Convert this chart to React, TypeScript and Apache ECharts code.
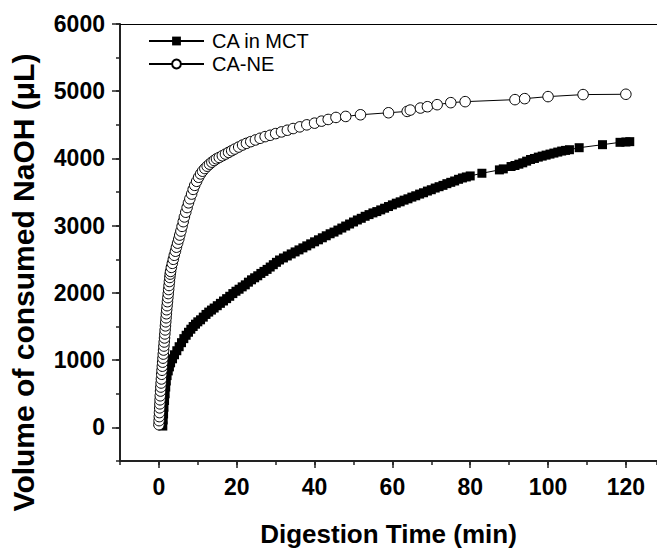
import React, { useEffect, useRef } from "react";
import * as echarts from "echarts";

// CA in MCT (filled squares): [time (min), volume (µL)]
const caInMct: [number, number][] = [
  [1.0, 20], [1.1, 110], [1.2, 200], [1.3, 300], [1.45, 400], [1.6, 500], [1.75, 600], [1.9, 690],
  [2.1, 770], [2.4, 840], [2.7, 900], [3.0, 960], [3.5, 1020], [4.0, 1080], [4.6, 1140], [5.2, 1200],
  [5.8, 1260], [6.4, 1320], [7.0, 1370], [7.6, 1415], [8.2, 1460], [8.8, 1500], [9.4, 1535], [10.0, 1570],
  [10.7, 1600], [11.4, 1640], [12.1, 1680], [12.8, 1715], [13.5, 1745], [14.2, 1775], [15.0, 1810],
  [15.8, 1845], [16.6, 1880], [17.4, 1915], [18.2, 1950], [19.0, 1990], [19.8, 2025], [20.6, 2055],
  [21.4, 2090], [22.2, 2120], [23.0, 2160], [23.8, 2195], [24.6, 2225], [25.4, 2255], [26.2, 2290],
  [27.0, 2320], [27.8, 2350], [28.6, 2385], [29.4, 2420], [30.2, 2455], [31, 2490], [32, 2520],
  [33, 2550], [34, 2580], [35, 2610], [36, 2640], [37, 2670], [38, 2700], [39, 2730], [40, 2760],
  [41, 2790], [42, 2820], [43, 2850], [44, 2880], [45, 2905], [46, 2935], [47, 2965], [48, 2995],
  [49, 3025], [50, 3055], [51, 3085], [52, 3110], [53, 3140], [54, 3165], [55, 3190], [56, 3210],
  [57, 3235], [58, 3260], [59, 3285], [60, 3310], [61, 3335], [62, 3355], [63, 3380], [64, 3400],
  [65, 3425], [66, 3445], [67, 3470], [68, 3490], [69, 3515], [70, 3535], [71, 3560], [72, 3580],
  [73, 3600], [74, 3625], [75, 3645], [76, 3665], [77, 3690], [78, 3710], [79, 3725], [80, 3740],
  [83, 3780], [87.5, 3830], [88.5, 3845], [90.5, 3880], [91.5, 3895], [92.5, 3915], [93.5, 3935],
  [94.5, 3960], [95.5, 3985], [96.5, 4000], [97.5, 4020], [98.5, 4035], [99.5, 4050], [100.5, 4065],
  [101.5, 4080], [102.5, 4095], [103.5, 4110], [104.5, 4120], [105.5, 4130], [108, 4160], [114, 4205],
  [118.5, 4240], [120, 4245], [121, 4250],
];

// CA-NE (open circles): [time (min), volume (µL)]
const caNe: [number, number][] = [
  [0.0, 40], [0.05, 100], [0.1, 160], [0.15, 220], [0.2, 290], [0.25, 350], [0.3, 410], [0.35, 470],
  [0.42, 540], [0.5, 600], [0.57, 660], [0.64, 720], [0.72, 790], [0.8, 850], [0.88, 910], [0.96, 970],
  [1.04, 1030], [1.12, 1090], [1.2, 1150], [1.28, 1210], [1.36, 1270], [1.44, 1330], [1.52, 1390],
  [1.6, 1450], [1.68, 1510], [1.76, 1570], [1.84, 1630], [1.92, 1690], [2.0, 1750], [2.1, 1810],
  [2.2, 1870], [2.3, 1930], [2.4, 1990], [2.5, 2050], [2.6, 2110], [2.7, 2170], [2.8, 2230],
  [2.9, 2280], [3.0, 2320], [3.2, 2380], [3.45, 2440], [3.7, 2500], [3.95, 2560], [4.25, 2620],
  [4.5, 2680], [4.8, 2740], [5.1, 2800], [5.35, 2860], [5.65, 2920], [5.95, 2990], [6.25, 3060],
  [6.55, 3130], [6.9, 3200], [7.25, 3270], [7.6, 3340], [7.95, 3400], [8.4, 3470], [8.8, 3540],
  [9.2, 3600], [9.7, 3660], [10.2, 3720], [10.7, 3770], [11.2, 3810], [11.8, 3850], [12.4, 3885],
  [13.0, 3915], [13.6, 3945], [14.2, 3970], [14.8, 3995], [15.5, 4015], [16.3, 4040], [17.1, 4065],
  [17.9, 4090], [18.7, 4115], [19.5, 4140], [20.5, 4170], [21.5, 4200], [22.5, 4225], [23.6, 4250],
  [24.8, 4275], [26, 4300], [27.3, 4325], [28.6, 4345], [30, 4370], [31.5, 4395], [33, 4420],
  [34.5, 4445], [36.2, 4470], [38, 4500], [40, 4525], [41.8, 4555], [43.5, 4580], [45.5, 4610],
  [48, 4625], [51.8, 4650], [59, 4680], [63.8, 4700], [64.6, 4720], [67.2, 4750], [69, 4770],
  [71.5, 4800], [75, 4830], [78.7, 4845], [91.5, 4875], [94, 4890], [100, 4920], [109, 4950],
  [120, 4955],
];

const xMajorTicks = [0, 20, 40, 60, 80, 100, 120];
const yMajorTicks = [0, 1000, 2000, 3000, 4000, 5000, 6000];

const FONT = "'Liberation Sans', Arial, Helvetica, sans-serif";

export default function App() {
  const ref = useRef<HTMLDivElement>(null);

  useEffect(() => {
    document.body.style.margin = "0";
    if (!ref.current) return;
    const chart = echarts.init(ref.current, null, { renderer: "svg" });
    const axisColor = "#222";
    const labelStyle = {
      color: "#000",
      fontFamily: FONT,
      fontWeight: "bold" as const,
      fontSize: 23,
    };
    const plain = (v: number) => String(v);
    chart.setOption({
      animation: false,
      backgroundColor: "#fff",
      grid: { left: 118, top: 24, right: 0, bottom: 88, containLabel: false },
      legend: {
        orient: "vertical",
        left: 148,
        top: 31,
        padding: 0,
        itemWidth: 55,
        itemHeight: 11,
        itemGap: 3,
        selectedMode: false,
        textStyle: {
          fontFamily: FONT,
          fontSize: 20,
          lineHeight: 20,
          color: "#000",
          padding: [0, 0, 0, 3],
        },
        data: ["CA in MCT", "CA-NE"],
      },
      xAxis: [
        {
          type: "value",
          position: "bottom",
          min: -10,
          max: 128,
          interval: 10,
          name: "Digestion Time (min)",
          nameLocation: "middle",
          nameGap: 60,
          nameTextStyle: { ...labelStyle, fontSize: 26 },
          splitLine: { show: false },
          axisLine: { show: true, onZero: false, lineStyle: { color: axisColor, width: 2 } },
          axisTick: {
            show: true,
            inside: false,
            length: 4,
            lineStyle: { color: axisColor, width: 1.5 },
          },
          axisLabel: { ...labelStyle, margin: 14, customValues: xMajorTicks, formatter: plain },
        },
        {
          type: "value",
          position: "bottom",
          min: -10,
          max: 128,
          interval: 10,
          splitLine: { show: false },
          axisLine: { show: false, onZero: false },
          axisLabel: { show: false },
          axisTick: {
            show: true,
            inside: false,
            length: 7,
            customValues: xMajorTicks,
            lineStyle: { color: axisColor, width: 1.5 },
          },
        },
        {
          type: "value",
          position: "top",
          min: -10,
          max: 128,
          interval: 10,
          splitLine: { show: false },
          axisLine: { show: true, onZero: false, lineStyle: { color: "#000", width: 1 } },
          axisLabel: { show: false },
          axisTick: { show: false },
        },
      ],
      yAxis: [
        {
          type: "value",
          position: "left",
          min: -500,
          max: 6000,
          interval: 500,
          name: "Volume of consumed NaOH (\u03bcL)",
          nameLocation: "middle",
          nameGap: 82,
          nameTextStyle: { ...labelStyle, fontSize: 30, padding: [0, 80, 0, 0] },
          splitLine: { show: false },
          axisLine: { show: true, onZero: false, lineStyle: { color: axisColor, width: 2 } },
          axisTick: {
            show: true,
            inside: false,
            length: 4,
            lineStyle: { color: axisColor, width: 1.5 },
          },
          axisLabel: { ...labelStyle, margin: 15, customValues: yMajorTicks, formatter: plain },
        },
        {
          type: "value",
          position: "left",
          min: -500,
          max: 6000,
          interval: 500,
          splitLine: { show: false },
          axisLine: { show: false, onZero: false },
          axisLabel: { show: false },
          axisTick: {
            show: true,
            inside: false,
            length: 8,
            customValues: yMajorTicks,
            lineStyle: { color: axisColor, width: 1.5 },
          },
        },
      ],
      series: [
        {
          name: "CA in MCT",
          type: "line",
          xAxisIndex: 0,
          yAxisIndex: 0,
          data: caInMct,
          symbol: "rect",
          symbolSize: 9,
          showSymbol: true,
          showAllSymbol: true,
          lineStyle: { color: "#000", width: 1 },
          itemStyle: { color: "#000", borderWidth: 0 },
          emphasis: { disabled: true },
        },
        {
          name: "CA-NE",
          type: "line",
          xAxisIndex: 0,
          yAxisIndex: 0,
          data: caNe,
          symbol: "circle",
          symbolSize: 10.5,
          showSymbol: true,
          showAllSymbol: true,
          lineStyle: { color: "#000", width: 1 },
          itemStyle: { color: "#fff", borderColor: "#000", borderWidth: 1 },
          emphasis: { disabled: true },
        },
      ],
    });
    return () => chart.dispose();
  }, []);

  return <div ref={ref} style={{ width: 657, height: 552 }} />;
}
